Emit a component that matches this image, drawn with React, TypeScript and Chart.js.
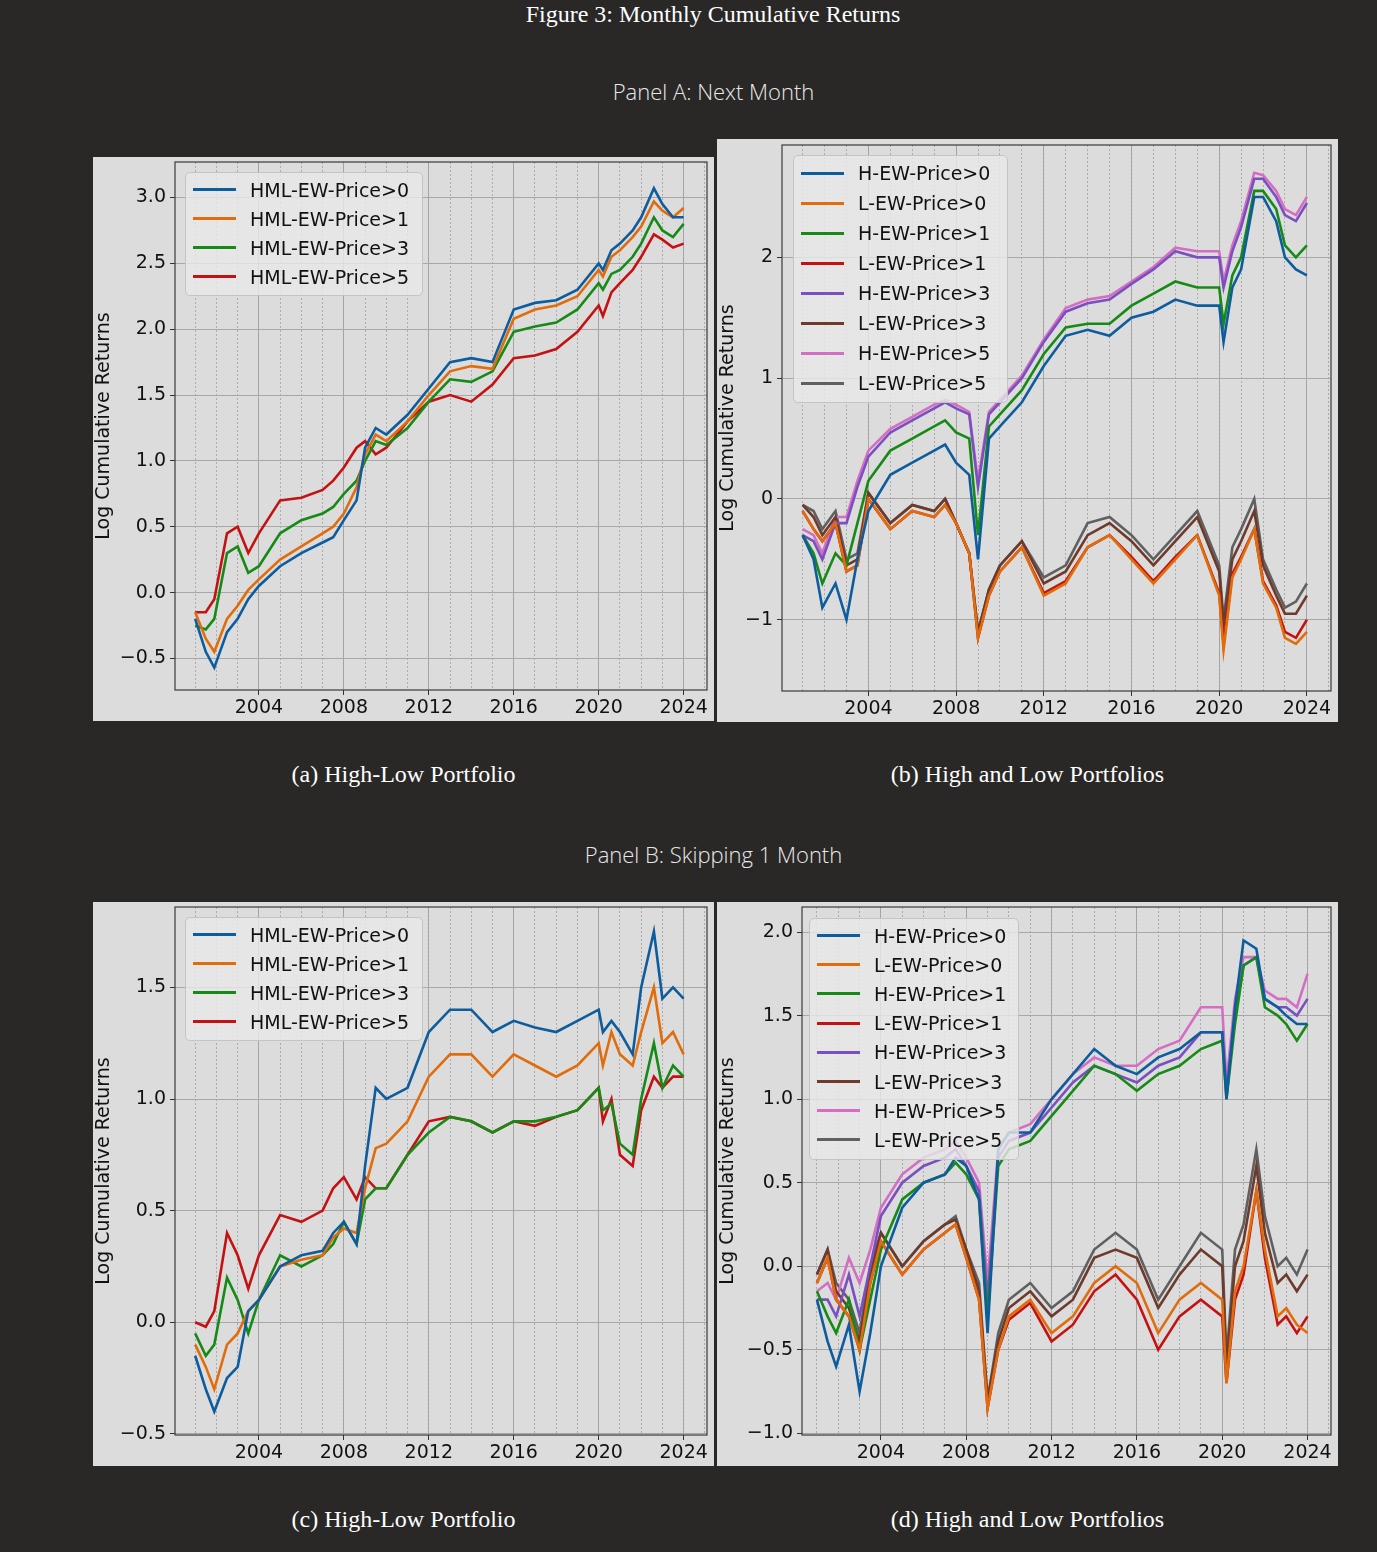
import React, { useEffect, useRef } from 'react';
import Chart from 'chart.js/auto';

const years = [2001.0, 2001.5, 2001.9, 2002.5, 2003.0, 2003.5, 2004.0, 2005.0, 2006.0, 2007.0, 2007.5, 2008.0, 2008.6, 2009.0, 2009.5, 2010.0, 2011.0, 2012.0, 2013.0, 2014.0, 2015.0, 2016.0, 2017.0, 2018.0, 2019.0, 2020.0, 2020.2, 2020.6, 2021.0, 2021.6, 2022.0, 2022.6, 2023.0, 2023.5, 2024.0];

// Panel A (a)
const aHml0 = [-0.2, -0.45, -0.57, -0.3, -0.2, -0.05, 0.05, 0.2, 0.3, 0.38, 0.42, 0.55, 0.7, 1.1, 1.25, 1.2, 1.35, 1.55, 1.75, 1.78, 1.75, 2.15, 2.2, 2.22, 2.3, 2.5, 2.45, 2.6, 2.65, 2.75, 2.85, 3.07, 2.95, 2.85, 2.85];
const aHml1 = [-0.15, -0.35, -0.45, -0.2, -0.1, 0.02, 0.1, 0.25, 0.35, 0.45, 0.5, 0.6, 0.8, 1.05, 1.2, 1.15, 1.3, 1.5, 1.68, 1.72, 1.7, 2.08, 2.15, 2.18, 2.25, 2.45, 2.4, 2.55, 2.6, 2.7, 2.78, 2.97, 2.9, 2.85, 2.92];
const aHml3 = [-0.25, -0.28, -0.2, 0.3, 0.35, 0.15, 0.2, 0.45, 0.55, 0.6, 0.65, 0.75, 0.85, 1.0, 1.15, 1.12, 1.25, 1.45, 1.62, 1.6, 1.68, 1.98, 2.02, 2.05, 2.15, 2.35, 2.3, 2.42, 2.45, 2.55, 2.65, 2.85, 2.75, 2.7, 2.8];
const aHml5 = [-0.15, -0.15, -0.05, 0.45, 0.5, 0.3, 0.45, 0.7, 0.72, 0.78, 0.85, 0.95, 1.1, 1.15, 1.05, 1.1, 1.3, 1.45, 1.5, 1.45, 1.58, 1.78, 1.8, 1.85, 1.98, 2.18, 2.1, 2.28, 2.35, 2.45, 2.55, 2.72, 2.68, 2.62, 2.65];

// Panel A (b)
const bH0 = [-0.3, -0.5, -0.9, -0.7, -1.0, -0.5, -0.1, 0.2, 0.3, 0.4, 0.45, 0.3, 0.2, -0.5, 0.5, 0.6, 0.8, 1.1, 1.35, 1.4, 1.35, 1.5, 1.55, 1.65, 1.6, 1.6, 1.3, 1.75, 1.9, 2.5, 2.5, 2.3, 2.0, 1.9, 1.85];
const bL0 = [-0.1, -0.25, -0.35, -0.2, -0.6, -0.55, 0.0, -0.25, -0.1, -0.15, -0.05, -0.2, -0.45, -1.15, -0.8, -0.6, -0.4, -0.8, -0.7, -0.4, -0.3, -0.5, -0.7, -0.5, -0.3, -0.8, -1.25, -0.65, -0.5, -0.25, -0.7, -0.9, -1.15, -1.2, -1.1];
const bH1 = [-0.3, -0.45, -0.7, -0.45, -0.55, -0.2, 0.15, 0.4, 0.5, 0.6, 0.65, 0.55, 0.5, -0.3, 0.6, 0.7, 0.9, 1.2, 1.42, 1.45, 1.45, 1.6, 1.7, 1.8, 1.75, 1.75, 1.45, 1.85, 2.0, 2.55, 2.55, 2.4, 2.1, 2.0, 2.1];
const bL1 = [-0.1, -0.25, -0.35, -0.2, -0.6, -0.55, 0.0, -0.25, -0.1, -0.15, -0.05, -0.2, -0.45, -1.15, -0.8, -0.6, -0.4, -0.78, -0.68, -0.4, -0.3, -0.48, -0.68, -0.48, -0.3, -0.78, -1.2, -0.62, -0.48, -0.25, -0.68, -0.88, -1.1, -1.15, -1.0];
const bH3 = [-0.3, -0.35, -0.5, -0.2, -0.2, 0.1, 0.35, 0.55, 0.65, 0.75, 0.8, 0.75, 0.7, 0.1, 0.7, 0.8, 1.0, 1.3, 1.55, 1.62, 1.65, 1.78, 1.9, 2.05, 2.0, 2.0, 1.75, 2.05, 2.25, 2.65, 2.65, 2.5, 2.35, 2.3, 2.45];
const bL3 = [-0.05, -0.15, -0.3, -0.15, -0.55, -0.5, 0.05, -0.2, -0.05, -0.1, 0.0, -0.2, -0.45, -1.1, -0.75, -0.55, -0.35, -0.7, -0.6, -0.3, -0.2, -0.35, -0.55, -0.35, -0.15, -0.6, -1.05, -0.5, -0.35, -0.1, -0.55, -0.8, -0.95, -0.95, -0.8];
const bH5 = [-0.25, -0.3, -0.45, -0.15, -0.15, 0.15, 0.4, 0.58, 0.68, 0.78, 0.82, 0.78, 0.72, 0.15, 0.72, 0.82, 1.02, 1.32, 1.58, 1.65, 1.68, 1.8, 1.92, 2.08, 2.05, 2.05, 1.8, 2.1, 2.3, 2.7, 2.68, 2.55, 2.4, 2.35, 2.5];
const bL5 = [-0.05, -0.1, -0.25, -0.1, -0.5, -0.45, 0.05, -0.2, -0.05, -0.1, 0.0, -0.2, -0.45, -1.1, -0.75, -0.55, -0.35, -0.65, -0.55, -0.2, -0.15, -0.3, -0.5, -0.3, -0.1, -0.55, -1.0, -0.4, -0.25, 0.0, -0.5, -0.75, -0.9, -0.85, -0.7];

// Panel B (c)
const cHml0 = [-0.15, -0.3, -0.4, -0.25, -0.2, 0.05, 0.1, 0.25, 0.3, 0.32, 0.4, 0.45, 0.35, 0.7, 1.05, 1.0, 1.05, 1.3, 1.4, 1.4, 1.3, 1.35, 1.32, 1.3, 1.35, 1.4, 1.3, 1.35, 1.3, 1.2, 1.5, 1.75, 1.45, 1.5, 1.45];
const cHml1 = [-0.1, -0.2, -0.3, -0.1, -0.05, 0.05, 0.1, 0.25, 0.28, 0.3, 0.38, 0.42, 0.4, 0.6, 0.78, 0.8, 0.9, 1.1, 1.2, 1.2, 1.1, 1.2, 1.15, 1.1, 1.15, 1.25, 1.15, 1.3, 1.2, 1.15, 1.3, 1.5, 1.25, 1.3, 1.2];
const cHml3 = [-0.05, -0.15, -0.1, 0.2, 0.1, -0.05, 0.1, 0.3, 0.25, 0.3, 0.35, 0.45, 0.35, 0.55, 0.6, 0.6, 0.75, 0.85, 0.92, 0.9, 0.85, 0.9, 0.9, 0.92, 0.95, 1.05, 0.95, 0.98, 0.8, 0.75, 1.0, 1.25, 1.05, 1.15, 1.1];
const cHml5 = [0.0, -0.02, 0.05, 0.4, 0.3, 0.15, 0.3, 0.48, 0.45, 0.5, 0.6, 0.65, 0.55, 0.65, 0.6, 0.6, 0.75, 0.9, 0.92, 0.9, 0.85, 0.9, 0.88, 0.92, 0.95, 1.05, 0.9, 1.0, 0.75, 0.7, 0.95, 1.1, 1.05, 1.1, 1.1];

// Panel B (d)
const dH0 = [-0.2, -0.45, -0.6, -0.35, -0.75, -0.4, 0.0, 0.35, 0.5, 0.55, 0.65, 0.6, 0.4, -0.4, 0.7, 0.8, 0.8, 1.0, 1.15, 1.3, 1.2, 1.15, 1.25, 1.3, 1.4, 1.4, 1.0, 1.55, 1.95, 1.9, 1.6, 1.55, 1.5, 1.45, 1.45];
const dL0 = [-0.1, 0.05, -0.2, -0.3, -0.5, -0.1, 0.15, -0.05, 0.1, 0.2, 0.25, 0.05, -0.2, -0.85, -0.5, -0.3, -0.2, -0.4, -0.3, -0.1, 0.0, -0.1, -0.4, -0.2, -0.1, -0.2, -0.7, -0.15, 0.0, 0.45, 0.1, -0.3, -0.25, -0.35, -0.4];
const dH1 = [-0.15, -0.3, -0.4, -0.2, -0.5, -0.2, 0.1, 0.4, 0.5, 0.55, 0.62, 0.55, 0.4, -0.3, 0.6, 0.7, 0.75, 0.9, 1.05, 1.2, 1.15, 1.05, 1.15, 1.2, 1.3, 1.35, 1.0, 1.45, 1.8, 1.85, 1.55, 1.5, 1.45, 1.35, 1.45];
const dL1 = [-0.1, 0.05, -0.2, -0.3, -0.5, -0.1, 0.15, -0.05, 0.1, 0.2, 0.25, 0.05, -0.2, -0.85, -0.5, -0.32, -0.22, -0.45, -0.35, -0.15, -0.05, -0.2, -0.5, -0.3, -0.2, -0.3, -0.7, -0.2, -0.05, 0.45, 0.05, -0.35, -0.3, -0.4, -0.3];
const dH3 = [-0.2, -0.2, -0.3, -0.05, -0.3, 0.0, 0.3, 0.5, 0.6, 0.65, 0.7, 0.6, 0.45, -0.2, 0.65, 0.75, 0.8, 0.95, 1.1, 1.2, 1.15, 1.1, 1.2, 1.25, 1.4, 1.4, 1.05, 1.5, 1.8, 1.85, 1.6, 1.55, 1.55, 1.5, 1.6];
const dL3 = [-0.05, 0.1, -0.15, -0.25, -0.45, -0.05, 0.2, 0.0, 0.15, 0.25, 0.28, 0.1, -0.15, -0.8, -0.45, -0.25, -0.15, -0.3, -0.2, 0.05, 0.1, 0.05, -0.25, -0.05, 0.1, 0.0, -0.6, 0.0, 0.15, 0.6, 0.2, -0.1, -0.05, -0.15, -0.05];
const dH5 = [-0.15, -0.1, -0.2, 0.05, -0.1, 0.1, 0.35, 0.55, 0.65, 0.7, 0.75, 0.65, 0.5, -0.1, 0.7, 0.8, 0.85, 1.0, 1.15, 1.25, 1.2, 1.2, 1.3, 1.35, 1.55, 1.55, 1.1, 1.6, 1.85, 1.85, 1.65, 1.6, 1.6, 1.55, 1.75];
const dL5 = [-0.05, 0.1, -0.1, -0.2, -0.4, 0.0, 0.2, 0.0, 0.15, 0.25, 0.3, 0.1, -0.1, -0.8, -0.4, -0.2, -0.1, -0.25, -0.15, 0.1, 0.2, 0.1, -0.2, 0.0, 0.2, 0.1, -0.55, 0.1, 0.25, 0.7, 0.3, 0.0, 0.05, -0.05, 0.1];

const majorYears = [2004, 2008, 2012, 2016, 2020, 2024];
const minorYears = Array.from({ length: 25 }, (_, i) => 2001 + i);

const C = {
  blue: '#0d5c9e', orange: '#e06c0c', green: '#168a16', red: '#c41212',
  purple: '#7a4fbf', brown: '#6e3a2c', pink: '#d46ec4', gray: '#606060',
};

const hmlLabels = ['HML-EW-Price>0', 'HML-EW-Price>1', 'HML-EW-Price>3', 'HML-EW-Price>5'];
const hlLabels = ['H-EW-Price>0', 'L-EW-Price>0', 'H-EW-Price>1', 'L-EW-Price>1', 'H-EW-Price>3', 'L-EW-Price>3', 'H-EW-Price>5', 'L-EW-Price>5'];
const hmlColors = [C.blue, C.orange, C.green, C.red];
const hlColors = [C.blue, C.orange, C.green, C.red, C.purple, C.brown, C.pink, C.gray];

const fmt = (v: number, dec: number) => (v < 0 ? '\u2212' : '') + Math.abs(v).toFixed(dec);

const frame = {
  id: 'frame',
  afterDraw(chart: any) {
    const { ctx, chartArea: a } = chart;
    ctx.save();
    ctx.strokeStyle = '#3a3a3a';
    ctx.lineWidth = 1.2;
    ctx.strokeRect(a.left, a.top, a.right - a.left, a.bottom - a.top);
    ctx.restore();
  },
};

interface PanelProps {
  left: number; top: number; width: number; height: number;
  plotLeft: number; plotTop: number;
  xMin: number; yMin: number; yMax: number; yTicks: number[]; dec: number;
  series: number[][]; labels: string[]; colors: string[];
  legend: { left: number; top: number; width: number; step: number };
}

const Panel: React.FC<PanelProps> = (p) => {
  const ref = useRef<HTMLCanvasElement>(null);
  useEffect(() => {
    if (!ref.current) return;
    const font = { family: 'DejaVu Sans', size: 19 };
    const chart = new Chart(ref.current, {
      type: 'line',
      data: {
        datasets: p.series.map((s, i) => ({
          label: p.labels[i],
          data: s.map((v, j) => ({ x: years[j], y: v })),
          borderColor: p.colors[i],
          borderWidth: 2.6,
          pointRadius: 0,
          tension: 0,
          xAxisID: 'x',
        })),
      },
      options: {
        animation: false,
        responsive: false,
        layout: { padding: { top: p.plotTop, right: 7, left: 0, bottom: 0 } },
        plugins: { legend: { display: false }, tooltip: { enabled: false } },
        scales: {
          x: {
            type: 'linear', min: p.xMin, max: 2025.1,
            afterBuildTicks: (s: any) => { s.ticks = majorYears.map((v) => ({ value: v })); },
            afterFit: (s: any) => { s.height = 31; s.paddingLeft = 0; s.paddingRight = 0; },
            ticks: { color: '#111', font, padding: 2, callback: (v: any) => String(v) },
            grid: { color: '#a8a8a8', lineWidth: 1, tickLength: 5, tickColor: '#333' },
            border: { display: false },
          },
          x2: {
            type: 'linear', min: p.xMin, max: 2025.1, display: true,
            afterBuildTicks: (s: any) => { s.ticks = minorYears.map((v) => ({ value: v })); },
            afterFit: (s: any) => { s.height = 0; s.paddingLeft = 0; s.paddingRight = 0; },
            ticks: { display: false },
            grid: { color: '#a0a0a0', lineWidth: 0.8, drawTicks: false },
            border: { display: false, dash: [2, 2] },
          },
          y: {
            min: p.yMin, max: p.yMax,
            afterBuildTicks: (s: any) => { s.ticks = p.yTicks.map((v) => ({ value: v })); },
            afterFit: (s: any) => { s.width = p.plotLeft; s.paddingTop = 0; s.paddingBottom = 0; },
            ticks: { color: '#111', font, padding: 4, callback: (v: any) => fmt(Number(v), p.dec) },
            grid: { color: '#a8a8a8', lineWidth: 1, tickLength: 5, tickColor: '#333' },
            border: { display: false },
            title: { display: true, text: 'Log Cumulative Returns', color: '#111', font: { family: 'DejaVu Sans', size: 19 }, padding: 0 },
          },
        },
      },
      plugins: [frame],
    } as any);
    return () => chart.destroy();
  }, []);

  const lg = p.legend;
  return (
    <div style={{ position: 'absolute', left: p.left, top: p.top, width: p.width, height: p.height, background: '#dcdcdc' }}>
      <canvas ref={ref} width={p.width} height={p.height} style={{ display: 'block' }} />
      <div style={{
        position: 'absolute', left: lg.left, top: lg.top, width: lg.width,
        background: 'rgba(232,232,232,0.82)', border: '1px solid #c4c4c4', borderRadius: 5,
        padding: '2px 0 4px 0', fontFamily: 'DejaVu Sans', fontSize: 19, color: '#111',
      }}>
        {p.labels.map((l, i) => (
          <div key={l} style={{ height: lg.step, display: 'flex', alignItems: 'center' }}>
            <span style={{ display: 'inline-block', width: 43, height: 3, background: p.colors[i], marginLeft: 7, marginRight: 14 }} />
            <span>{l}</span>
          </div>
        ))}
      </div>
    </div>
  );
};

const serif: React.CSSProperties = { fontFamily: 'Liberation Serif', fontSize: 24, color: '#fff', position: 'absolute', textAlign: 'center' };
const sans: React.CSSProperties = { fontFamily: 'Open Sans', fontWeight: 300, fontSize: 22, color: '#e8e8e8', position: 'absolute', textAlign: 'center', width: 1377, left: 0 };

export default function App() {
  useEffect(() => { document.body.style.margin = '0'; }, []);
  return (
    <div style={{ position: 'relative', width: 1377, height: 1552, background: '#292826', overflow: 'hidden' }}>
      <div style={{ ...serif, left: 0, width: 1426, top: 1 }}>Figure 3: Monthly Cumulative Returns</div>
      <div style={{ ...sans, top: 76, left: 25 }}>Panel A: Next Month</div>
      <Panel left={93} top={157} width={621} height={564} plotLeft={82} plotTop={5}
        xMin={2000.05} yMin={-0.74} yMax={3.27} yTicks={[-0.5, 0, 0.5, 1, 1.5, 2, 2.5, 3]} dec={1}
        series={[aHml0, aHml1, aHml3, aHml5]} labels={hmlLabels} colors={hmlColors}
        legend={{ left: 92, top: 15, width: 236, step: 29 }} />
      <Panel left={717} top={139} width={621} height={583} plotLeft={65} plotTop={6}
        xMin={2000.06} yMin={-1.59} yMax={2.93} yTicks={[-1, 0, 1, 2]} dec={0}
        series={[bH0, bL0, bH1, bL1, bH3, bL3, bH5, bL5]} labels={hlLabels} colors={hlColors}
        legend={{ left: 76, top: 16, width: 213, step: 30 }} />
      <div style={{ ...serif, left: 93, width: 621, top: 761 }}>(a) High-Low Portfolio</div>
      <div style={{ ...serif, left: 717, width: 621, top: 761 }}>(b) High and Low Portfolios</div>
      <div style={{ ...sans, top: 839, left: 25 }}>Panel B: Skipping 1 Month</div>
      <Panel left={93} top={902} width={621} height={564} plotLeft={82} plotTop={5}
        xMin={2000.05} yMin={-0.505} yMax={1.86} yTicks={[-0.5, 0, 0.5, 1, 1.5]} dec={1}
        series={[cHml0, cHml1, cHml3, cHml5]} labels={hmlLabels} colors={hmlColors}
        legend={{ left: 92, top: 15, width: 236, step: 29 }} />
      <Panel left={717} top={902} width={621} height={564} plotLeft={85} plotTop={5}
        xMin={2000.3} yMin={-1.01} yMax={2.15} yTicks={[-1, -0.5, 0, 0.5, 1, 1.5, 2]} dec={1}
        series={[dH0, dL0, dH1, dL1, dH3, dL3, dH5, dL5]} labels={hlLabels} colors={hlColors}
        legend={{ left: 92, top: 16, width: 208, step: 29.2 }} />
      <div style={{ ...serif, left: 93, width: 621, top: 1506 }}>(c) High-Low Portfolio</div>
      <div style={{ ...serif, left: 717, width: 621, top: 1506 }}>(d) High and Low Portfolios</div>
    </div>
  );
}
